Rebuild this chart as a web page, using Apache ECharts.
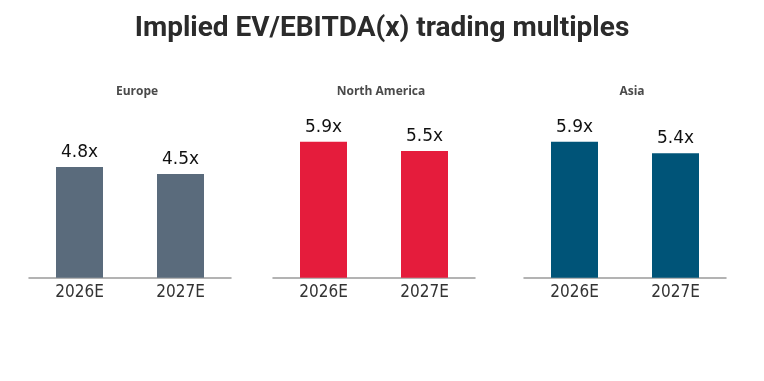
<!DOCTYPE html>
<html>
<head>
<meta charset="utf-8">
<script src="https://cdn.jsdelivr.net/npm/echarts@6/dist/echarts.min.js"></script>
<style>html,body{margin:0;padding:0;background:#fff;}#c{width:764px;height:381px;}</style>
</head>
<body>
<div id="c"></div>
<script>
const chartTitle = 'Implied EV/EBITDA(x) trading multiples';
const regions = ['Europe', 'North America', 'Asia'];
const years = ['2026E', '2027E'];
const europeValues = [4.8, 4.5];
const northAmericaValues = [5.9, 5.5];
const asiaValues = [5.9, 5.4];
const regionColors = ['#5a6b7c', '#e51c3c', '#005478'];

const seriesValues = [europeValues, northAmericaValues, asiaValues];
const gridLefts = [29, 273, 524];
const gridWidth = 202;
const gridTop = 116.3;
const gridBottom = 103.3;

const chart = echarts.init(document.getElementById('c'));
const titles = [{
  text: chartTitle, left: 'center', top: 10,
  textStyle: { fontFamily: 'Roboto', fontWeight: 'bold', fontSize: 28, color: '#2b2b2b' }
}];
regions.forEach((r, i) => {
  titles.push({
    text: r, left: gridLefts[i] + gridWidth / 2 + 2, top: 81, textAlign: 'center',
    textStyle: { fontFamily: 'Open Sans', fontWeight: 'bold', fontSize: 12, color: '#4a4a4a' }
  });
});
chart.setOption({
  backgroundColor: '#fff',
  animation: false,
  title: titles,
  grid: regions.map((r, i) => ({ left: gridLefts[i], width: gridWidth, top: gridTop, bottom: gridBottom })),
  xAxis: regions.map((r, i) => ({
    type: 'category', gridIndex: i, data: years,
    axisLine: { lineStyle: { color: '#9a9a9a', width: 1.5 } },
    axisTick: { show: false },
    axisLabel: { margin: 6, fontFamily: 'DejaVu Sans Condensed', fontSize: 17, color: '#333' }
  })),
  yAxis: regions.map((r, i) => ({
    type: 'value', gridIndex: i, min: 0, max: 7, show: false, splitLine: { show: false }
  })),
  series: regions.map((r, i) => ({
    type: 'bar', xAxisIndex: i, yAxisIndex: i, data: seriesValues[i],
    barWidth: 47, itemStyle: { color: regionColors[i] },
    label: {
      show: true, position: 'top', distance: 6,
      formatter: p => p.value.toFixed(1) + 'x',
      fontFamily: 'DejaVu Sans', fontSize: 17, color: '#111'
    }
  }))
});
</script>
</body>
</html>
